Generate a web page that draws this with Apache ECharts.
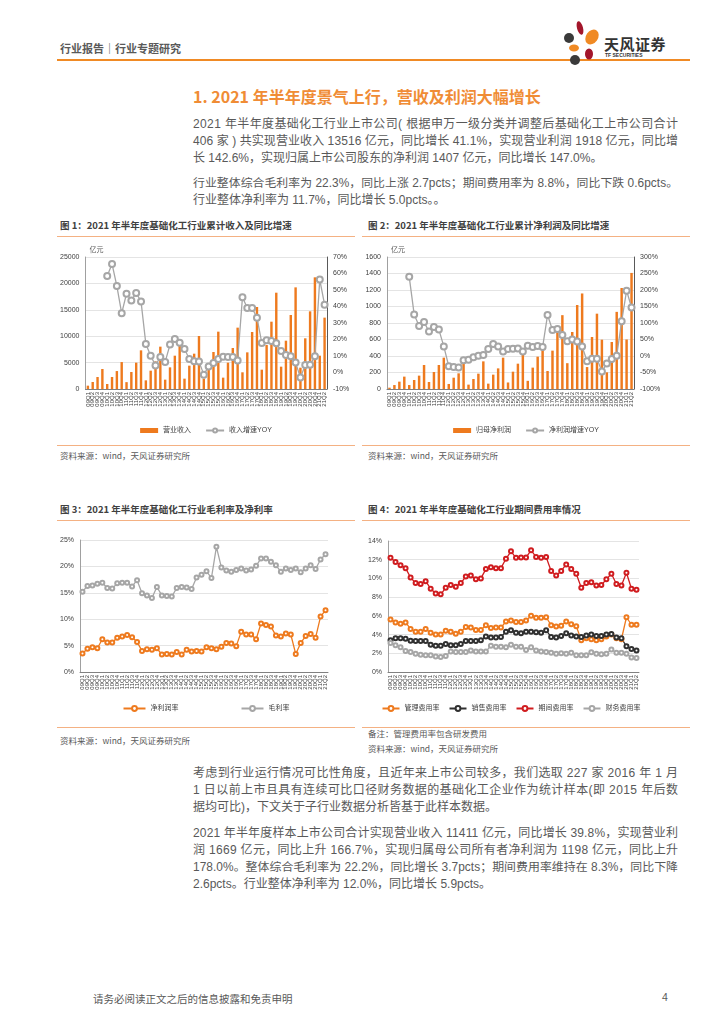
<!DOCTYPE html>
<html><head><meta charset="utf-8">
<script src="https://cdn.jsdelivr.net/npm/echarts@6/dist/echarts.min.js"></script>
<style>
html,body{margin:0;padding:0;background:#fff;width:724px;height:1024px;overflow:hidden;}
body{position:relative;font-family:"Liberation Sans","Noto Sans CJK SC",sans-serif;}
.abs{position:absolute;}
.ln{position:absolute;left:193px;font-size:12px;color:#595959;line-height:17px;height:17px;white-space:nowrap;}
.ct{position:absolute;font-size:9.5px;font-weight:bold;color:#404040;font-family:"Noto Sans CJK SC",sans-serif;}
.src{position:absolute;font-size:8.5px;color:#595959;font-family:"Noto Sans CJK SC",sans-serif;}
.ol{position:absolute;height:1px;background:#F4B183;}
.chart{position:absolute;width:298px;height:200px;}
</style></head>
<body>
<div class="abs" style="left:60px;top:40px;font-size:11px;font-weight:bold;color:#595959;font-family:'Noto Sans CJK SC';">行业报告｜行业专题研究</div>
<div class="abs" style="left:57px;top:59px;width:633px;height:2px;background:#F08A24;"></div>
<svg class="abs" style="left:560px;top:18px;" width="46" height="50" viewBox="0 0 46 50">
  <ellipse cx="20" cy="10" rx="3" ry="7" fill="#A3162B" transform="rotate(-15 20 10)"/>
  <circle cx="9" cy="20" r="5" fill="#3A3A3A"/>
  <ellipse cx="32" cy="19" rx="6" ry="8" fill="#F08A24" transform="rotate(35 32 19)"/>
  <ellipse cx="14" cy="30" rx="5" ry="3.5" fill="#F08A24"/>
  <ellipse cx="29" cy="36" rx="4" ry="5.5" fill="#A3162B"/>
  <circle cx="15" cy="42" r="5" fill="#3A3A3A"/>
</svg>
<div class="abs" style="left:604px;top:33px;font-size:15px;font-weight:bold;color:#333;font-family:'Noto Sans CJK SC';letter-spacing:0.5px;">天风证券</div>
<div class="abs" style="left:605px;top:52px;font-size:5px;color:#333;font-weight:bold;">TF SECURITIES</div>

<div class="abs" style="left:193px;top:84px;font-size:16px;font-weight:bold;color:#F08C35;font-family:'Noto Sans CJK SC';">1. 2021 年半年度景气上行，营收及利润大幅增长</div>

<div class="ln j" style="top:116px;">2021 年半年度基础化工行业上市公司( 根据申万一级分类并调整后基础化工上市公司合计</div>
<div class="ln j" style="top:133px;">406 家 ) 共实现营业收入 13516 亿元，同比增长 41.1%，实现营业利润 1918 亿元，同比增</div>
<div class="ln" style="top:150px;">长 142.6%，实现归属上市公司股东的净利润 1407 亿元，同比增长 147.0%。</div>
<div class="ln j" style="top:175px;">行业整体综合毛利率为 22.3%，同比上涨 2.7pcts；期间费用率为 8.8%，同比下跌 0.6pcts。</div>
<div class="ln" style="top:192px;">行业整体净利率为 11.7%，同比增长 5.0pcts。。</div>

<div class="ct" style="left:60px;top:218px;">图 1：2021 年半年度基础化工行业累计收入及同比增速</div>
<div class="ct" style="left:368px;top:218px;">图 2：2021 年半年度基础化工行业累计净利润及同比增速</div>
<div class="ol" style="left:57px;top:236px;width:298px;"></div>
<div class="ol" style="left:362px;top:236px;width:328px;"></div>

<div id="c1" class="chart" style="left:57px;top:240px;"></div>
<div id="c2" class="chart" style="left:362px;top:240px;width:328px;"></div>

<div class="ol" style="left:57px;top:445px;width:298px;"></div>
<div class="ol" style="left:362px;top:445px;width:328px;"></div>
<div class="src" style="left:60px;top:449px;">资料来源：wind，天风证券研究所</div>
<div class="src" style="left:368px;top:449px;">资料来源：wind，天风证券研究所</div>

<div class="ct" style="left:60px;top:502px;">图 3：2021 年半年度基础化工行业毛利率及净利率</div>
<div class="ct" style="left:368px;top:502px;">图 4：2021 年半年度基础化工行业期间费用率情况</div>
<div class="ol" style="left:57px;top:520px;width:298px;"></div>
<div class="ol" style="left:362px;top:520px;width:328px;"></div>

<div id="c3" class="chart" style="left:57px;top:525px;"></div>
<div id="c4" class="chart" style="left:362px;top:525px;width:298px;"></div>

<div class="ol" style="left:57px;top:727px;width:298px;"></div>
<div class="ol" style="left:362px;top:727px;width:328px;"></div>
<div class="src" style="left:60px;top:734px;">资料来源：wind，天风证券研究所</div>
<div class="src" style="left:368px;top:727px;">备注：管理费用率包含研发费用</div>
<div class="src" style="left:368px;top:742px;">资料来源：wind，天风证券研究所</div>

<div class="ln j" style="top:765px;">考虑到行业运行情况可比性角度，且近年来上市公司较多，我们选取 227 家 2016 年 1 月</div>
<div class="ln j" style="top:782px;">1 日以前上市且具有连续可比口径财务数据的基础化工企业作为统计样本(即 2015 年后数</div>
<div class="ln" style="top:799px;">据均可比)，下文关于子行业数据分析皆基于此样本数据。</div>
<div class="ln j" style="top:825px;">2021 年半年度样本上市公司合计实现营业收入 11411 亿元，同比增长 39.8%，实现营业利</div>
<div class="ln j" style="top:842px;">润 1669 亿元，同比上升 166.7%，实现归属母公司所有者净利润为 1198 亿元，同比上升</div>
<div class="ln j" style="top:859px;">178.0%。整体综合毛利率为 22.2%，同比增长 3.7pcts；期间费用率维持在 8.3%，同比下降</div>
<div class="ln" style="top:876px;">2.6pcts。行业整体净利率为 12.0%，同比增长 5.9pcts。</div>

<div class="abs" style="left:93px;top:991px;font-size:10.5px;color:#595959;font-family:'Noto Sans CJK SC';">请务必阅读正文之后的信息披露和免责申明</div>
<div class="abs" style="left:662px;top:991px;font-size:10.5px;color:#595959;">4</div>

<script>
// justify body lines to a 485px measure
document.querySelectorAll('.ln.j').forEach(function(el){
  const target = 485;
  const n = el.textContent.length;
  let w = el.getBoundingClientRect().width;
  if (w > target) { el.style.fontSize = (12 * target / w - 0.05) + 'px'; w = el.getBoundingClientRect().width; }
  const ls = (target - w) / (n - 1);
  el.style.letterSpacing = ls + 'px';
});

const quarters = ['09Q1','09Q2','09Q3','09Q4','10Q1','10Q2','10Q3','10Q4','11Q1','11Q2','11Q3','11Q4',
'12Q1','12Q2','12Q3','12Q4','13Q1','13Q2','13Q3','13Q4','14Q1','14Q2','14Q3','14Q4',
'15Q1','15Q2','15Q3','15Q4','16Q1','16Q2','16Q3','16Q4','17Q1','17Q2','17Q3','17Q4',
'18Q1','18Q2','18Q3','18Q4','19Q1','19Q2','19Q3','19Q4','20Q1','20Q2','20Q3','20Q4','21Q1','21Q2'];

const revenue = [630,1330,2270,3790, 950,2270,3400,5100, 1300,3220,4990,7320, 1640,3470,5240,8020,
1770,4100,6310,9470, 1960,4420,6690,10040, 1960,4040,7010,10860, 2150,4990,7770,11620,
3160,6940,10800,15530, 3660,8330,12750,18240, 4230,9150,14020,19250, 4040,9600,14710,21150, 6310,13516];
const revenueYoY = [null,null,null,null, 58.5,65.8,52.4,35.9, 47.8,43.7,48.2,43.1, 17.3,10.2,4.3,9.4,
6.4,16.9,20.3,18.1, 14.2,8.2,6.8,6.6, -1.3,3.7,5.8,8.2, 9.6,9.4,9.4,7.2, 45.6,39.1,39.1,33.2,
17.9,19.5,19.1,17.7, 13.0,10.6,9.8,6.0, -3.1,4.5,4.7,9.8, 56.3,41.1];

const profit = [16,48,89,150, 48,109,162,291, 85,206,291,380, 61,137,190,315, 53,121,186,335,
65,174,250,380, 79,210,307,428, 99,259,392,545, 218,465,707,895, 313,691,1018,1158,
266,630,913,598, 202,570,935,1224, 600,1407];
const profitYoY = [null,null,null,null, 240,126,91,103, 74,88,80,29, -31,-33,-35,-13, -11,-4,1,3,
21,36,29,14, 21,22,23,14, 31,27,30,27, 124,79,82,64, 45,50,44,29, -16,-8,-8,-47, -23,-9,1,105, 198,147];

const grossMargin = [15.2,16.3,16.4,16.7,16.9,15.9,15.8,16.8,16.9,16.9,16.2,17.4,14.9,14.5,14.0,16.1,
14.5,14.4,14.3,15.9,16.1,16.0,15.7,17.9,18.4,19.1,17.8,23.7,19.8,19.2,19.0,19.3,19.6,19.2,19.4,20.1,
21.5,21.5,20.9,20.2,19.0,19.6,19.3,19.6,18.9,19.6,20.2,19.5,21.3,22.3];
const netMargin = [3.5,4.4,4.7,4.5,6.2,5.6,5.6,6.5,6.7,7.0,6.6,5.7,4.0,4.3,4.2,4.5,3.3,3.4,3.3,3.8,
3.3,4.2,3.9,4.0,3.9,4.7,4.5,4.3,4.8,5.5,5.4,4.9,7.6,7.1,7.1,6.2,9.2,8.9,8.6,6.9,6.7,7.3,7.1,3.4,
5.5,6.8,7.2,6.5,10.5,11.7];

const mgmtRate = [5.6,5.3,5.15,5.3,4.6,4.3,4.3,4.6,4.2,4.0,4.0,4.4,4.3,4.1,4.3,4.8,4.75,4.5,4.5,5.0,
4.7,4.75,4.75,5.4,5.5,5.35,5.35,5.5,6.0,5.8,5.8,5.85,5.0,4.85,4.95,5.4,5.1,4.9,3.4,3.6,3.5,3.4,3.5,
3.8,4.0,3.6,3.5,5.85,5.05,5.05];
const salesRate = [3.4,3.6,3.6,3.55,3.35,3.3,3.3,3.3,2.9,2.8,2.8,3.0,2.85,2.85,3.0,3.3,3.3,3.3,3.4,3.8,
3.7,3.7,3.75,4.3,4.45,4.2,4.15,4.3,4.3,4.25,4.2,4.45,3.75,3.7,3.85,4.15,3.9,3.8,3.75,3.9,4.0,3.85,
3.85,4.0,4.05,3.7,3.6,2.75,2.45,2.3];
const periodRate = [12.2,11.75,11.4,11.1,10.1,9.5,9.4,9.7,8.9,8.4,8.3,9.0,9.3,9.1,9.5,10.2,10.3,9.9,10.0,
11.0,11.2,11.1,11.1,12.1,12.9,12.2,12.25,12.25,13.0,12.3,12.2,12.3,10.8,10.3,10.8,11.5,11.0,10.5,9.0,
9.5,9.6,9.25,9.3,9.9,10.5,9.4,9.25,10.6,8.9,8.8];
const financeRate = [3.1,2.85,2.65,2.25,2.15,1.95,1.85,1.8,1.8,1.65,1.6,1.7,2.2,2.15,2.15,2.15,2.3,2.2,
2.2,2.2,2.8,2.7,2.7,2.65,2.9,2.7,2.7,2.35,2.65,2.3,2.2,2.15,2.05,1.95,2.0,1.95,2.05,1.8,1.8,1.8,2.1,
1.95,1.9,1.95,2.4,2.05,2.05,1.95,1.55,1.5];

const FONT = '"Liberation Sans","Noto Sans CJK SC",sans-serif';
const ORANGE = '#EE7A1E';
const GRAYL = '#A6A6A6';
const axisLbl = {fontSize:7, color:'#404040', fontFamily:FONT};
const gridLine = {show:true, lineStyle:{color:'#E4E4E4', width:1}};
const plain = function(v){ return String(v); };
const pct = function(v){ return v + '%'; };

function xAxisCfg(){
  return {type:'category', data:quarters, boundaryGap:true,
    axisLine:{lineStyle:{color:'#808080'}}, axisTick:{show:false},
    axisLabel:{fontSize:6, color:'#404040', rotate:90, interval:0, margin:3, fontFamily:FONT}};
}

function dual(id, gridCfg, barName, barData, lineName, lineData, lmax, lint, rmin, rmax, rint){
  const c = echarts.init(document.getElementById(id), null, {renderer:'canvas'});
  c.setOption({
    animation:false,
    textStyle:{fontFamily:FONT},
    grid:gridCfg,
    legend:{bottom:1, itemGap:14, itemWidth:18, itemHeight:5, textStyle:{fontSize:7, color:'#404040'},
      data:[{name:barName, icon:'rect'}, {name:lineName}]},
    xAxis:xAxisCfg(),
    yAxis:[
      {type:'value', min:0, max:lmax, interval:lint, name:'亿元', nameLocation:'end', nameGap:3,
        nameTextStyle:{fontSize:7, color:'#595959', align:'left', padding:[0,0,0,4]},
        axisLine:{show:true, lineStyle:{color:'#A0A0A0'}}, axisTick:{show:false},
        axisLabel:Object.assign({margin:6, formatter:plain}, axisLbl), splitLine:gridLine},
      {type:'value', min:rmin, max:rmax, interval:rint, position:'right',
        axisLine:{show:true, lineStyle:{color:'#595959'}}, axisTick:{show:false},
        axisLabel:Object.assign({margin:6, formatter:pct}, axisLbl), splitLine:{show:false}}
    ],
    series:[
      {name:barName, type:'bar', data:barData, barWidth:'50%', itemStyle:{color:ORANGE}},
      {name:lineName, type:'line', yAxisIndex:1, data:lineData, symbol:'emptyCircle', symbolSize:6,
        lineStyle:{color:GRAYL, width:1.3}, itemStyle:{color:GRAYL, borderWidth:1.5}}
    ]
  });
}

dual('c1', {left:21, right:28, top:17, bottom:51}, '营业收入', revenue, '收入增速YOY', revenueYoY, 25000, 5000, -10, 70, 10);
dual('c2', {left:25, right:56, top:17, bottom:51}, '归母净利润', profit, '净利润增速YOY', profitYoY, 1600, 200, -100, 300, 50);

function lineSeries(name, data, color){
  return {name:name, type:'line', data:data, symbol:'emptyCircle', symbolSize:4,
    lineStyle:{color:color, width:1.3}, itemStyle:{color:color, borderWidth:1.2}};
}

const c3 = echarts.init(document.getElementById('c3'));
c3.setOption({
  animation:false, textStyle:{fontFamily:FONT},
  grid:{left:20, right:27, top:15, bottom:53},
  legend:{bottom:8, itemGap:62, itemWidth:22, itemHeight:6, textStyle:{fontSize:7, color:'#404040'}},
  xAxis:xAxisCfg(),
  yAxis:{type:'value', min:0, max:25, interval:5,
    axisLine:{show:true, lineStyle:{color:'#A0A0A0'}}, axisTick:{show:false},
    axisLabel:Object.assign({margin:6, formatter:pct}, axisLbl), splitLine:gridLine},
  series:[lineSeries('净利润率', netMargin, ORANGE), lineSeries('毛利率', grossMargin, GRAYL)]
});

const c4 = echarts.init(document.getElementById('c4'));
c4.setOption({
  animation:false, textStyle:{fontFamily:FONT},
  grid:{left:26, right:21, top:16, bottom:53},
  legend:{bottom:8, left:'center', width:290, itemGap:9, itemWidth:17, itemHeight:6, textStyle:{fontSize:7, color:'#404040'}},
  xAxis:xAxisCfg(),
  yAxis:{type:'value', min:0, max:14, interval:2,
    axisLine:{show:true, lineStyle:{color:'#A0A0A0'}}, axisTick:{show:false},
    axisLabel:Object.assign({margin:6, formatter:pct}, axisLbl), splitLine:gridLine},
  series:[lineSeries('管理费用率', mgmtRate, ORANGE), lineSeries('销售费用率', salesRate, '#303030'),
    lineSeries('期间费用率', periodRate, '#D01C1F'), lineSeries('财务费用率', financeRate, GRAYL)]
});
</script>
</body></html>
